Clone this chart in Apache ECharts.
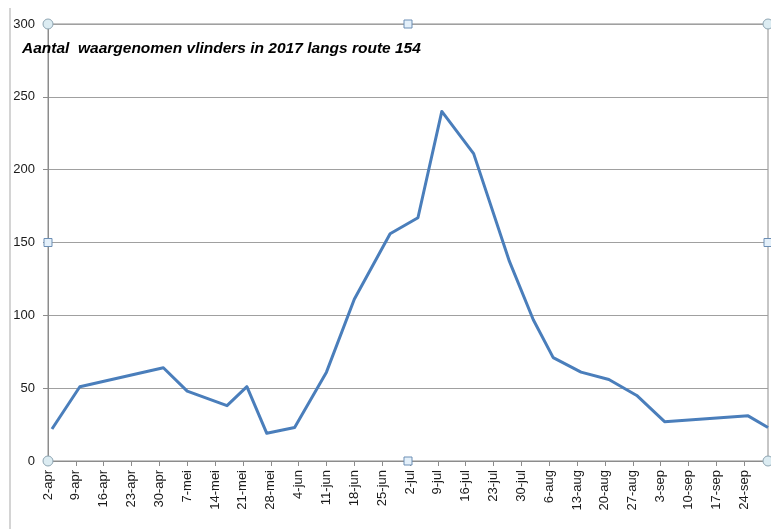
<!DOCTYPE html>
<html>
<head>
<meta charset="utf-8">
<script src="https://cdn.jsdelivr.net/npm/echarts@6/dist/echarts.min.js"></script>
<style>
html,body{margin:0;padding:0;background:#fff;}
#chart{width:771px;height:529px;}
</style>
</head>
<body>
<div id="chart"></div>
<script>
const obsDates = ['2017-04-03','2017-04-10','2017-05-01','2017-05-07','2017-05-17','2017-05-22','2017-05-27',
  '2017-06-03','2017-06-11','2017-06-18','2017-06-27','2017-07-04','2017-07-10','2017-07-18','2017-07-27',
  '2017-08-02','2017-08-07','2017-08-14','2017-08-21','2017-08-28','2017-09-04','2017-09-25','2017-09-30'];
const counts = [22, 51, 64, 48, 38, 51, 19, 23, 61, 111, 156, 167, 240, 211, 137, 97, 71, 61, 56, 45, 27, 31, 23];
// Axis tick labels (weekly, starting 2-apr)
const tickLabels = ['2-apr','9-apr','16-apr','23-apr','30-apr','7-mei','14-mei','21-mei','28-mei','4-jun',
  '11-jun','18-jun','25-jun','2-jul','9-jul','16-jul','23-jul','30-jul','6-aug','13-aug','20-aug','27-aug',
  '3-sep','10-sep','17-sep','24-sep'];
const axisStart = '2017-04-02';
const axisEnd = '2017-09-30';
const titleText = 'Aantal  waargenomen vlinders in 2017 langs route 154';

const dayMs = 86400000;
const t0 = Date.parse(axisStart + 'T00:00:00Z');
const dayOf = s => Math.round((Date.parse(s + 'T00:00:00Z') - t0) / dayMs);
const seriesData = obsDates.map((d, i) => [dayOf(d), counts[i]]);

const chart = echarts.init(document.getElementById('chart'), null, {renderer: 'canvas'});
const axisGray = '#8c8c8c';
const font = '"Liberation Sans", Arial, sans-serif';

const gridL = 48, gridR = 3, gridT = 24, gridB = 68;
const W = 771, H = 529;
const xL = gridL, xR = W - gridR, yT = gridT, yB = H - gridB, xM = (xL + xR) / 2, yM = (yT + yB) / 2;

function circ(x, y) {
  return {type: 'circle', shape: {cx: x, cy: y, r: 5}, style: {fill: '#dcecf2', stroke: '#8fa6b3', lineWidth: 1}, z: 100};
}
function sq(x, y) {
  return {type: 'rect', shape: {x: x - 4, y: y - 4, width: 8, height: 8}, style: {fill: '#e4f0fa', stroke: '#6d8fb5', lineWidth: 1}, z: 100};
}

chart.setOption({
  animation: false,
  backgroundColor: '#ffffff',
  title: {
    text: titleText,
    left: 22, top: 41, padding: 0,
    textStyle: {fontFamily: font, fontSize: 15.5, fontWeight: 'bold', fontStyle: 'italic', color: '#000'}
  },
  grid: {left: gridL, right: gridR, top: gridT, bottom: gridB, show: true, borderColor: axisGray, borderWidth: 1, containLabel: false},
  xAxis: {
    type: 'value', min: 0, max: dayOf(axisEnd), interval: 7,
    axisLine: {show: true, lineStyle: {color: axisGray, width: 1}},
    axisTick: {show: true, inside: false, length: 5, lineStyle: {color: axisGray}},
    splitLine: {show: false},
    axisLabel: {
      rotate: 90, margin: 9, fontFamily: font, fontSize: 13, color: '#1a1a1a',
      showMaxLabel: false,
      formatter: v => { const i = Math.round(v / 7); return (v % 7 === 0 && i < tickLabels.length) ? tickLabels[i] : ''; }
    }
  },
  yAxis: {
    type: 'value', min: 0, max: 300, interval: 50,
    axisLine: {show: true, lineStyle: {color: axisGray, width: 1}},
    axisTick: {show: true, inside: false, length: 5, lineStyle: {color: axisGray}},
    splitLine: {show: true, lineStyle: {color: '#a0a0a0', width: 1}},
    axisLabel: {margin: 13, fontFamily: font, fontSize: 13, color: '#1a1a1a'}
  },
  series: [{
    type: 'line', data: seriesData, showSymbol: false, symbol: 'none',
    lineStyle: {color: '#4a7ebb', width: 3, join: 'round'}, z: 5
  }],
  graphic: [
    {type: 'line', shape: {x1: 10, y1: 8, x2: 10, y2: 529}, style: {stroke: '#d4d4d4', lineWidth: 2}, z: 1},
    circ(xL, yT), circ(xR, yT), circ(xL, yB), circ(xR, yB),
    sq(xM, yT), sq(xM, yB), sq(xL, yM), sq(xR, yM)
  ]
});
</script>
</body>
</html>
